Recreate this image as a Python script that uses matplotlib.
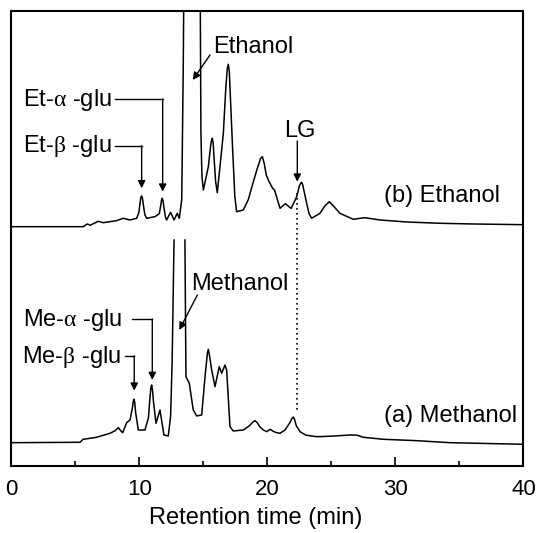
import numpy as np
import matplotlib
matplotlib.use("Agg")
import matplotlib.pyplot as plt

plt.rcParams['font.family'] = ['Liberation Sans', 'DejaVu Sans']
plt.rcParams['mathtext.fontset'] = 'custom'
plt.rcParams['mathtext.rm'] = 'Liberation Serif'

# retention time (min) and detector signal above baseline (arbitrary units)
eth_time = [0.0, 5.6, 5.93, 6.14, 6.78, 7.17, 8.2, 8.73, 9.26, 9.78, 9.95, 10.05, 10.1, 10.17,
            10.24, 10.3, 10.42, 10.56, 11.21, 11.55, 11.67, 11.72, 11.78, 11.84, 11.9, 12.02,
            12.12, 12.43, 12.7, 12.95, 13.11, 13.3, 13.42, 13.5, 14.1, 14.72, 14.8, 14.88,
            14.99, 15.38, 15.55, 15.62, 15.69, 15.76, 15.82, 15.95, 16.08, 16.55, 16.75,
            16.86, 16.94, 17.02, 17.1, 17.28, 17.45, 17.59, 18.11, 18.5, 18.8, 19.2, 19.45,
            19.6, 19.75, 19.9, 20.1, 20.4, 20.55, 20.98, 21.4, 21.85, 22.28, 22.5, 22.6,
            22.67, 22.75, 22.85, 23.06, 23.25, 23.45, 24.1, 24.5, 24.83, 25.2, 25.66, 26.7,
            27.6, 28.79, 30.87, 33.48, 36.05, 40.0]
eth_signal = [0, 0, 2.7, 1.4, 5.4, 4.0, 6.0, 8.4, 6.7, 8.4, 14, 24, 29, 30.7,
              28, 22, 12, 8.4, 10, 13, 22, 26.5, 28.4, 26, 20, 10,
              6.7, 14.4, 6.7, 13.4, 8.4, 26.7, 160, 300, 900, 300, 93.7, 50,
              36.7, 60, 80, 86, 88.4, 83, 70, 45, 34, 93, 140,
              158, 162.4, 155, 130, 76.7, 30, 15, 16.7, 27, 40.7, 58, 68,
              70, 63, 52, 45.7, 38.4, 36.7, 18.4, 23, 18.2, 30, 41, 43.5,
              44.4, 42, 36, 23.4, 13, 8.4, 13.4, 21, 25, 20, 13.4, 7.4,
              9, 6.7, 4.7, 3.4, 2.7, 2.0]

meth_time = [0.0, 5.35, 5.6, 6.2, 6.65, 7.2, 7.7, 8.1, 8.35, 8.53, 8.69, 9.0, 9.26,
             9.45, 9.51, 9.57, 9.63, 9.7, 9.91, 10.43, 10.7, 10.82, 10.89, 10.95, 11.02,
             11.1, 11.29, 11.6, 11.91, 12.25, 12.43, 12.55, 12.7, 13.1, 13.55, 13.63,
             13.89, 14.2, 14.47, 14.86, 15.12, 15.31, 15.38, 15.46, 15.64, 15.9, 16.23,
             16.42, 16.68, 16.81, 17.07, 17.33, 18.11, 18.6, 18.85, 19.02, 19.2, 19.4,
             19.67, 19.95, 20.2, 20.5, 20.72, 20.98, 21.37, 21.75, 21.9, 22.02, 22.12,
             22.25, 22.54, 23.0, 23.84, 25.0, 26.45, 27.0, 27.48, 29.05, 31.66, 34.26, 40.0]
meth_signal = [0, 0.4, 3.4, 4.5, 5.4, 7.5, 9.4, 12, 15, 12, 10, 20, 22.7,
               35, 41, 43.4, 40, 30, 12.7, 12.7, 25, 45, 55, 57.7, 52,
               40, 19.4, 32.7, 7.7, 6.7, 26, 80, 202.7, np.nan, 202.7, 66,
               59.4, 32.7, 26.7, 27.7, 66, 90, 93.4, 88, 72.7, 56, 76,
               69.4, 77.7, 72.7, 16, 11.7, 12.7, 17, 20.5, 22, 20, 16,
               12.7, 11, 13.4, 11, 10, 9.4, 12.7, 20, 24, 25.7, 23,
               17, 11, 7.5, 6, 6.5, 7.7, 7.5, 5.4, 3.4, 2, 0, -1.6]

eth_offset = 239.8
meth_offset = 23.8

fig = plt.figure(figsize=(5.37, 5.33), dpi=100)
ax = fig.add_axes([0.0214, 0.1248, 0.9534, 0.8546])

ax.plot(eth_time, np.array(eth_signal) + eth_offset, color='black', lw=1.1)
ax.plot(meth_time, np.array(meth_signal) + meth_offset, color='black', lw=1.1)

ax.set_xlim(0, 40)
ax.set_ylim(0, 455.5)
ax.set_xticks([0, 10, 20, 30, 40])
ax.set_xticks([5, 15, 25, 35], minor=True)
ax.set_yticks([])
ax.tick_params(axis='x', which='major', direction='in', length=6.5, width=1.2,
               labelsize=16, pad=9)
ax.tick_params(axis='x', which='minor', direction='in', length=3.6, width=1.2)
for sp in ax.spines.values():
    sp.set_linewidth(1.5)

fig.text(256 / 537, 1 - 524 / 533, 'Retention time (min)', ha='center',
         va='baseline', fontsize=17)

arrow = dict(arrowstyle='-|>', color='black', lw=1.0, mutation_scale=11,
             shrinkA=0, shrinkB=0)
fs = 17

# LG dotted link between the two traces
ax.plot([22.28, 22.28], [273.5, 54.5], color='black', lw=1.2, ls=(0, (1, 2)))

# ethanol panel labels
ax.text(15.77, 413.8, 'Ethanol', fontsize=fs, va='baseline')
ax.annotate('', xy=(14.16, 386.5), xytext=(15.51, 411.5), arrowprops=arrow)

ax.text(0.875, 360.5, r'Et-$\mathrm{\alpha}$ -glu', fontsize=fs, va='baseline')
ax.plot([8.09, 11.81], [367.5, 367.5], color='black', lw=1.0)
ax.annotate('', xy=(11.81, 274.8), xytext=(11.81, 367.5), arrowprops=arrow)

ax.text(0.875, 314.8, r'Et-$\mathrm{\beta}$ -glu', fontsize=fs, va='baseline')
ax.plot([8.09, 10.17], [320.8, 320.8], color='black', lw=1.0)
ax.annotate('', xy=(10.17, 278.2), xytext=(10.17, 320.8), arrowprops=arrow)

ax.text(22.5, 329.8, 'LG', fontsize=fs, ha='center', va='baseline')
ax.annotate('', xy=(22.33, 284.8), xytext=(22.33, 325.5), arrowprops=arrow)

ax.text(38.16, 264.8, '(b) Ethanol', fontsize=fs, ha='right', va='baseline')

# methanol panel labels
ax.text(14.0, 176.5, 'Methanol', fontsize=fs, va='baseline')
ax.annotate('', xy=(13.11, 136.5), xytext=(14.52, 171.5), arrowprops=arrow)

ax.text(0.875, 140.5, r'Me-$\mathrm{\alpha}$ -glu', fontsize=fs, va='baseline')
ax.plot([9.39, 11.0], [147.5, 147.5], color='black', lw=1.0)
ax.annotate('', xy=(11.0, 86.5), xytext=(11.0, 147.5), arrowprops=arrow)

ax.text(0.8, 103.2, r'Me-$\mathrm{\beta}$ -glu', fontsize=fs, va='baseline')
ax.plot([8.87, 9.59], [110.5, 110.5], color='black', lw=1.0)
ax.annotate('', xy=(9.59, 75.8), xytext=(9.59, 110.5), arrowprops=arrow)

ax.text(39.47, 44.8, '(a) Methanol', fontsize=fs, ha='right', va='baseline')

fig.savefig('out.png', dpi=100)
